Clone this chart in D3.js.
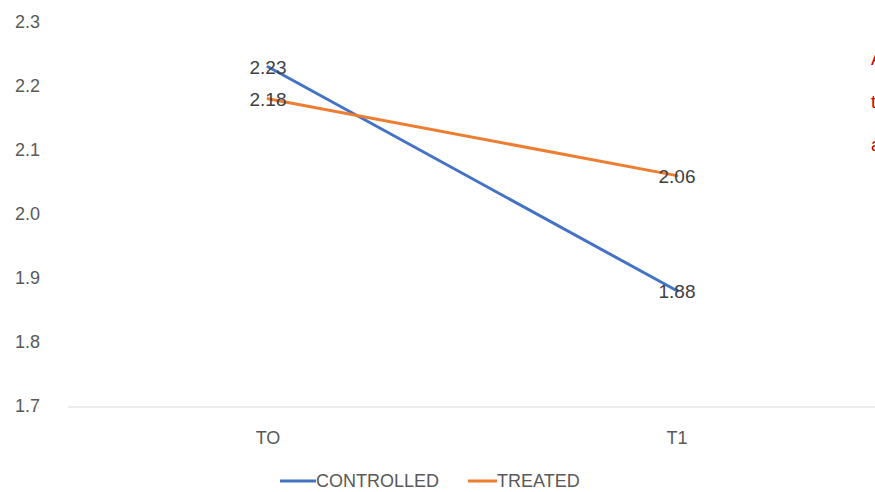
<!DOCTYPE html>
<html>
<head>
<meta charset="utf-8">
<script src="https://cdnjs.cloudflare.com/ajax/libs/d3/7.8.5/d3.min.js"></script>
<style>
  html, body { margin: 0; padding: 0; background: #fff; }
  svg { display: block; }
</style>
</head>
<body>
<svg id="chart" width="875" height="492"></svg>
<script>
// Time points and mean scores per group
const categories = ["TO", "T1"];
const controlled = [2.23, 1.88];
const treated = [2.18, 2.06];
const yTicks = [1.7, 1.8, 1.9, 2.0, 2.1, 2.2, 2.3];
const seriesNames = ["CONTROLLED", "TREATED"];
const seriesColors = ["#4472c4", "#ed7d31"];
const sideNotes = ["A", "t", "a"];

const svg = d3.select("#chart");
const W = 875, H = 492;

const x = d3.scalePoint().domain(categories).range([63.5, 881.5]).padding(0.5);
const y = d3.scaleLinear().domain([1.7, 2.3]).range([406, 22]);

const font = "'Liberation Sans', Arial, sans-serif";

// Category axis baseline
svg.append("line")
  .attr("x1", 68).attr("x2", W)
  .attr("y1", y(1.7) + 1).attr("y2", y(1.7) + 1)
  .attr("stroke", "#d9d9d9").attr("stroke-width", 1.2);

// Y tick labels
svg.append("g").selectAll("text").data(yTicks).join("text")
  .attr("x", 40).attr("y", d => y(d))
  .attr("dy", "0.35em")
  .attr("text-anchor", "end")
  .attr("font-family", font).attr("font-size", 18)
  .attr("fill", "#595959")
  .text(d => d.toFixed(1));

// X category labels
svg.append("g").selectAll("text").data(categories).join("text")
  .attr("x", d => x(d)).attr("y", 444)
  .attr("text-anchor", "middle")
  .attr("font-family", font).attr("font-size", 18)
  .attr("fill", "#595959")
  .text(d => d);

const series = [
  { name: seriesNames[0], color: seriesColors[0], values: controlled },
  { name: seriesNames[1], color: seriesColors[1], values: treated }
];

const line = d3.line()
  .x((d, i) => x(categories[i]))
  .y(d => y(d));

svg.append("g").selectAll("path").data(series).join("path")
  .attr("d", d => line(d.values))
  .attr("fill", "none")
  .attr("stroke", d => d.color)
  .attr("stroke-width", 3)
  .attr("stroke-linecap", "round");

// Value labels centred on each point
const labels = series.flatMap(s => s.values.map((v, i) => ({ v, c: categories[i] })));
svg.append("g").selectAll("text").data(labels).join("text")
  .attr("x", d => x(d.c)).attr("y", d => y(d.v) + 1)
  .attr("dy", "0.35em")
  .attr("text-anchor", "middle")
  .attr("font-family", font).attr("font-size", 19)
  .attr("fill", "#404040")
  .text(d => d.v.toFixed(2));

// Legend
const legendItems = [
  { x: 280, w: 36 },
  { x: 468, w: 29 }
];
const lg = svg.append("g").selectAll("g").data(series).join("g")
  .attr("transform", (d, i) => `translate(${legendItems[i].x},481)`);
lg.append("line")
  .attr("x1", 0).attr("x2", (d, i) => legendItems[i].w)
  .attr("y1", 0).attr("y2", 0)
  .attr("stroke", d => d.color).attr("stroke-width", 3);
lg.append("text")
  .attr("x", (d, i) => legendItems[i].w)
  .attr("dy", "0.35em")
  .attr("font-family", font).attr("font-size", 18)
  .attr("fill", "#595959")
  .text(d => d.name);

// Notes running off the right edge
svg.append("g").selectAll("text").data(sideNotes).join("text")
  .attr("x", 871).attr("y", (d, i) => 65 + i * 43)
  .attr("font-family", font).attr("font-size", 18)
  .attr("fill", "#c00000")
  .text(d => d);
</script>
</body>
</html>
